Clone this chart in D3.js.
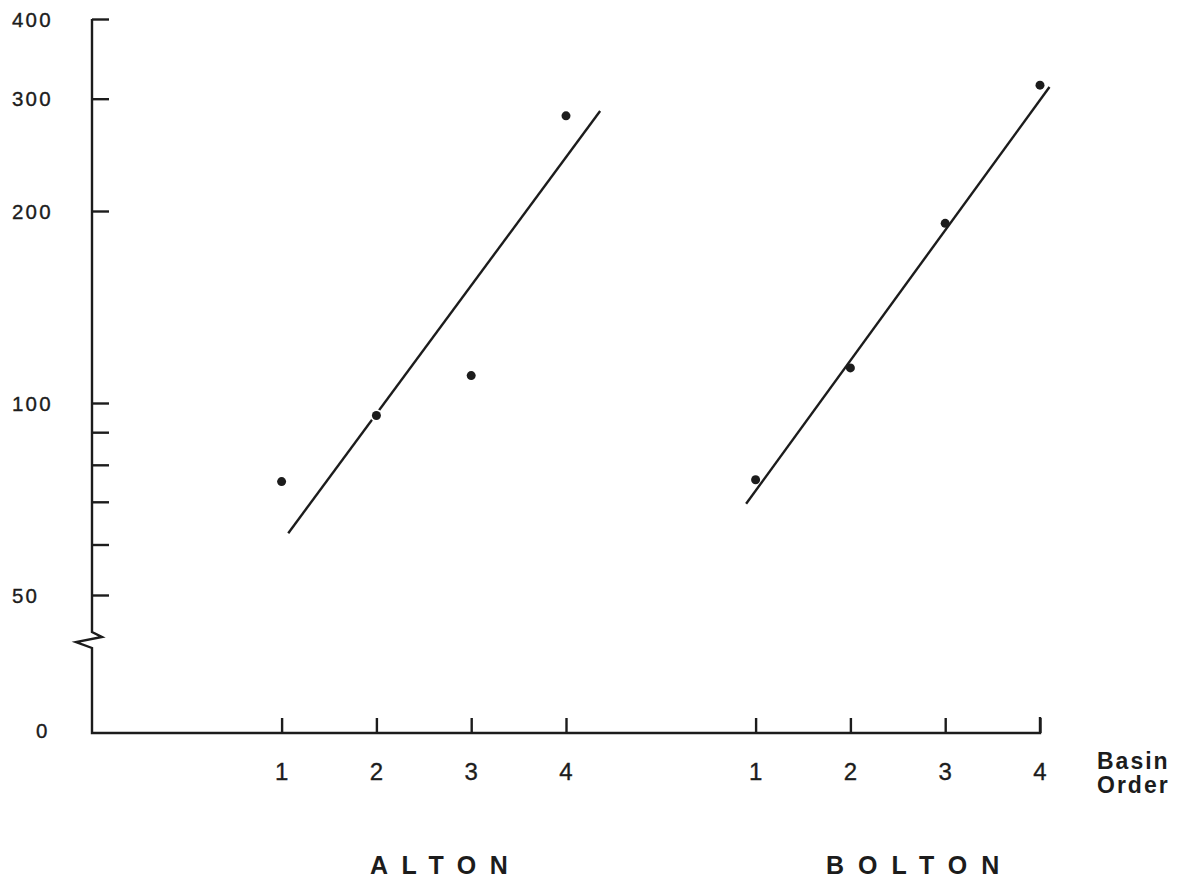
<!DOCTYPE html>
<html>
<head>
<meta charset="utf-8">
<script src="https://cdn.jsdelivr.net/npm/d3@7"></script>
<style>
  html, body { margin: 0; padding: 0; background: #fff; }
  svg { display: block; }
  text { font-family: "Liberation Sans", Arial, Helvetica, sans-serif; fill: #1c1c1c; }
  .num { stroke: #1c1c1c; stroke-width: 0.35px; }
</style>
</head>
<body>
<svg id="chart" width="1189" height="884"></svg>
<script>
// Basin order of each stream segment group
const orders = [1, 2, 3, 4];

// Observed values per basin order (log scale)
const altonValues = [75.3, 95.6, 110.4, 282];
const boltonValues = [75.8, 113.5, 191.3, 315];

// Fitted straight lines: [basin order, value] at each end
const altonFit = [[1.07, 62.5], [4.36, 287]];
const boltonFit = [[0.90, 69.5], [4.10, 313]];

// Y axis ticks
const yMajorTicks = [400, 300, 200, 100, 50];
const yMinorTicks = [90, 80, 70, 60];
const yTickLabels = ["400", "300", "200", "100", "50"];

const sites = [
  { name: "ALTON", offset: 0, values: altonValues, fit: altonFit, halo: true },
  { name: "BOLTON", offset: 5, values: boltonValues, fit: boltonFit, halo: false }
];

const ink = "#1c1c1c";
const svg = d3.select("#chart");

// Position along the x axis: Alton orders 1-4, Bolton orders shifted by 5
const x = d3.scaleLinear().domain([-1, 9]).range([92, 1040]);
const y = d3.scaleLog().domain([50, 400]).range([595, 19]);
const baseY = 733;

// Y axis line with a break between 50 and zero
const axisPath = d3.path();
axisPath.moveTo(x(-1), y(400));
axisPath.lineTo(x(-1), 632);
axisPath.lineTo(x(-1) + 10, 637);
axisPath.lineTo(x(-1) - 16, 642);
axisPath.lineTo(x(-1), 648);
axisPath.lineTo(x(-1), baseY);
axisPath.lineTo(x(9), baseY);
axisPath.lineTo(x(9), baseY - 16);
svg.append("path")
  .attr("d", axisPath.toString())
  .attr("fill", "none")
  .attr("stroke", ink)
  .attr("stroke-width", 2.4)
  .attr("stroke-linejoin", "miter");

// Y ticks (drawn to the right of the axis)
const yAxis = d3.axisRight(y)
  .tickValues(yMajorTicks.concat(yMinorTicks))
  .tickSize(17)
  .tickFormat("");
const yg = svg.append("g").attr("transform", `translate(${x(-1)},0)`).call(yAxis);
yg.select(".domain").remove();
yg.selectAll(".tick line").attr("stroke", ink).attr("stroke-width", 2.4);

// Y tick labels
svg.append("g").selectAll("text")
  .data(yMajorTicks)
  .join("text")
  .attr("class", "num")
  .attr("x", 12)
  .attr("y", d => y(d))
  .attr("dy", "0.38em")
  .attr("font-size", 20.5)
  .attr("letter-spacing", 2.2)
  .text((d, i) => yTickLabels[i]);

svg.append("text")
  .attr("class", "num")
  .attr("x", 36)
  .attr("y", baseY - 3)
  .attr("dy", "0.38em")
  .attr("font-size", 20.5)
  .text("0");

// X ticks and labels for each site
sites.forEach(site => {
  const xAxis = d3.axisTop(x)
    .tickValues(orders.map(o => o + site.offset))
    .tickSize(15)
    .tickFormat("");
  const xg = svg.append("g").attr("transform", `translate(0,${baseY})`).call(xAxis);
  xg.select(".domain").remove();
  xg.selectAll(".tick line").attr("stroke", ink).attr("stroke-width", 2.4);

  svg.append("g").selectAll("text")
    .data(orders)
    .join("text")
    .attr("class", "num")
    .attr("x", d => x(d + site.offset))
    .attr("y", 780)
    .attr("text-anchor", "middle")
    .attr("font-size", 24)
    .text(d => d);
});

// Fitted lines and observed points
const line = d3.line()
  .x(d => d[0])
  .y(d => d[1]);

sites.forEach(site => {
  svg.append("path")
    .datum(site.fit.map(d => [x(d[0] + site.offset), y(d[1])]))
    .attr("d", line)
    .attr("fill", "none")
    .attr("stroke", ink)
    .attr("stroke-width", 2.4);

  svg.append("g").selectAll("circle")
    .data(site.values)
    .join("circle")
    .attr("cx", (d, i) => x(orders[i] + site.offset))
    .attr("cy", d => y(d))
    .attr("r", 4.5)
    .attr("fill", ink)
    .attr("stroke", site.halo ? "#fff" : "none")
    .attr("stroke-width", site.halo ? 3.5 : 0)
    .attr("paint-order", "stroke");
});

// Axis title
const title = svg.append("text")
  .attr("x", 1097)
  .attr("font-size", 23)
  .attr("font-weight", "bold")
  .attr("letter-spacing", 2);
title.append("tspan").attr("x", 1097).attr("y", 769).text("Basin");
title.append("tspan").attr("x", 1097).attr("y", 793).text("Order");

// Site names
svg.append("text")
  .attr("x", 370).attr("y", 874)
  .attr("font-size", 25).attr("font-weight", "bold")
  .attr("letter-spacing", 13.5)
  .text("ALTON");
svg.append("text")
  .attr("x", 826).attr("y", 874)
  .attr("font-size", 25).attr("font-weight", "bold")
  .attr("letter-spacing", 14)
  .text("BOLTON");
</script>
</body>
</html>
